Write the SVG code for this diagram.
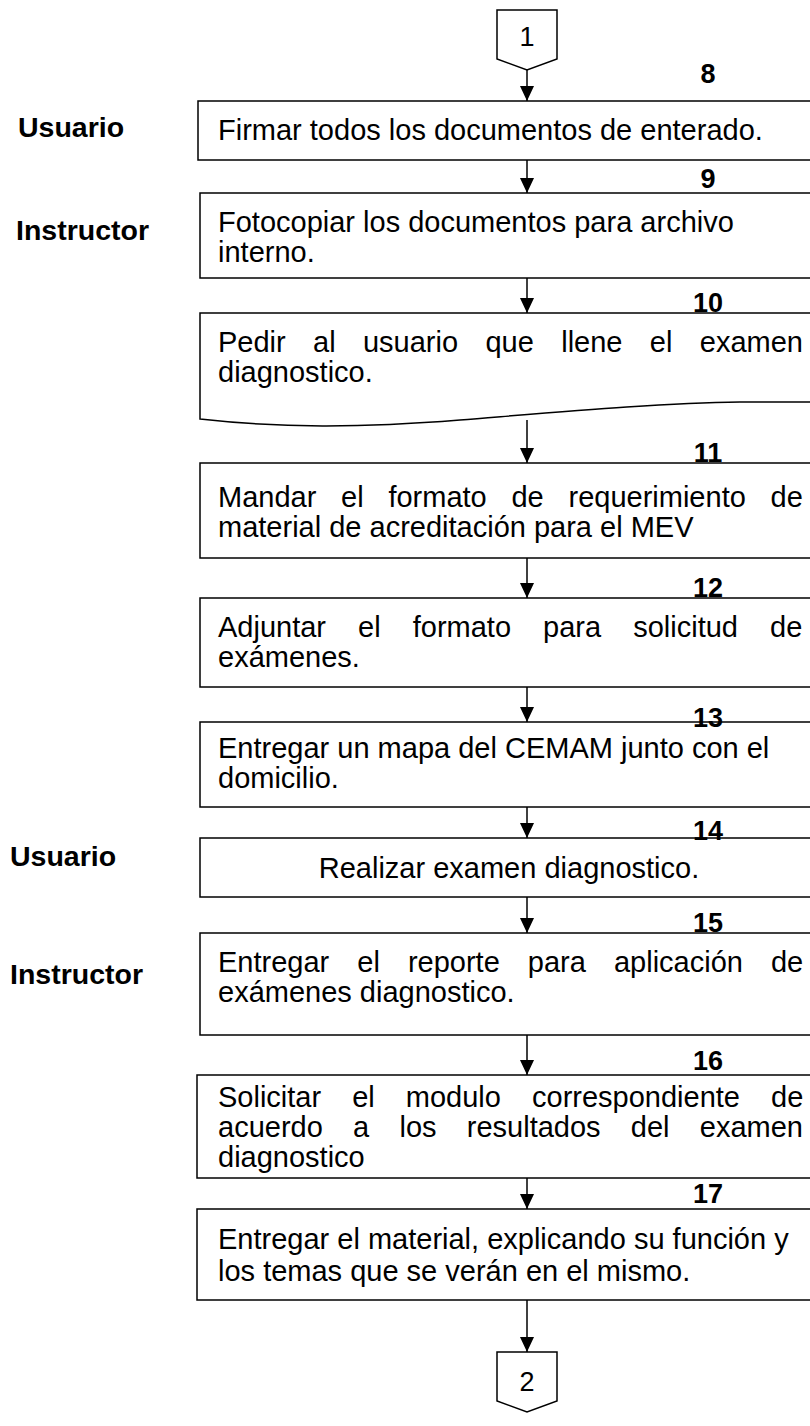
<svg xmlns="http://www.w3.org/2000/svg" width="810" height="1426" viewBox="0 0 810 1426">
<defs>
<style>
.box{fill:#fff;stroke:#000;stroke-width:1.5}
.t{font-family:"Liberation Sans",Arial,sans-serif;font-size:29px;fill:#000}
.n{font-family:"Liberation Sans",Arial,sans-serif;font-size:27px;font-weight:bold;fill:#000;text-anchor:middle}
.lbl{font-family:"Liberation Sans",Arial,sans-serif;font-size:28.5px;font-weight:bold;fill:#000}
.c{font-family:"Liberation Sans",Arial,sans-serif;font-size:27px;fill:#000;text-anchor:middle}
.ln{stroke:#000;stroke-width:1.5;fill:none}
</style>
<marker id="ah" markerUnits="userSpaceOnUse" markerWidth="15" markerHeight="14" refX="15" refY="7" orient="auto" viewBox="0 0 15 14">
<path d="M0,0 L15,7 L0,14 Z" fill="#000"/>
</marker>
</defs>
<rect width="810" height="1426" fill="#fff"/>

<g id="labels">
<text class="lbl" x="18" y="137">Usuario</text>
<text class="lbl" x="16" y="240">Instructor</text>
<text class="lbl" x="10" y="866">Usuario</text>
<text class="lbl" x="10" y="984">Instructor</text>
</g>

<g id="connectors">
<line class="ln" x1="527" y1="70" x2="527" y2="101" marker-end="url(#ah)"/>
<line class="ln" x1="527" y1="160" x2="527" y2="193" marker-end="url(#ah)"/>
<line class="ln" x1="527" y1="278" x2="527" y2="313" marker-end="url(#ah)"/>
<line class="ln" x1="527" y1="420" x2="527" y2="463" marker-end="url(#ah)"/>
<line class="ln" x1="527" y1="558" x2="527" y2="598" marker-end="url(#ah)"/>
<line class="ln" x1="527" y1="687" x2="527" y2="722" marker-end="url(#ah)"/>
<line class="ln" x1="527" y1="807" x2="527" y2="838" marker-end="url(#ah)"/>
<line class="ln" x1="527" y1="897" x2="527" y2="933" marker-end="url(#ah)"/>
<line class="ln" x1="527" y1="1035" x2="527" y2="1075" marker-end="url(#ah)"/>
<line class="ln" x1="527" y1="1178" x2="527" y2="1209" marker-end="url(#ah)"/>
<line class="ln" x1="527" y1="1300" x2="527" y2="1352" marker-end="url(#ah)"/>
</g>

<g id="conn1">
<path class="box" d="M497,10 H557 V59 L527,70 L497,59 Z"/>
<text class="c" x="527" y="46">1</text>
</g>

<g id="step8">
<rect class="box" x="198" y="101" width="620" height="59"/>
<text class="n" x="708" y="83">8</text>
<text class="t" x="218" y="140">Firmar todos los documentos de enterado.</text>
</g>

<g id="step9">
<rect class="box" x="200" y="193" width="620" height="85"/>
<text class="n" x="708" y="188">9</text>
<text class="t" x="218" y="232">Fotocopiar los documentos para archivo</text>
<text class="t" x="218" y="262">interno.</text>
</g>

<g id="step10">
<path class="box" d="M200,313 H820 V402 L740,402 C660,403 560,412 460,420 C360,428 280,428 200,419 Z"/>
<text class="n" x="708" y="312">10</text>
<text class="t" x="218" y="352" word-spacing="19.3">Pedir al usuario que llene el examen</text>
<text class="t" x="218" y="382">diagnostico.</text>
</g>

<g id="step11">
<rect class="box" x="200" y="463" width="620" height="95"/>
<text class="n" x="708" y="462">11</text>
<text class="t" x="218" y="507" word-spacing="16.7">Mandar el formato de requerimiento de</text>
<text class="t" x="218" y="537">material de acreditación para el MEV</text>
</g>

<g id="step12">
<rect class="box" x="200" y="598" width="620" height="89"/>
<text class="n" x="708" y="597">12</text>
<text class="t" x="218" y="637" word-spacing="24">Adjuntar el formato para solicitud de</text>
<text class="t" x="218" y="667">exámenes.</text>
</g>

<g id="step13">
<rect class="box" x="200" y="722" width="620" height="85"/>
<text class="n" x="708" y="727">13</text>
<text class="t" x="218" y="758">Entregar un mapa del CEMAM  junto con el</text>
<text class="t" x="218" y="788">domicilio.</text>
</g>

<g id="step14">
<rect class="box" x="200" y="838" width="620" height="59"/>
<text class="n" x="708" y="840">14</text>
<text class="t" x="509" y="878" text-anchor="middle">Realizar examen diagnostico.</text>
</g>

<g id="step15">
<rect class="box" x="200" y="933" width="620" height="102"/>
<text class="n" x="708" y="932">15</text>
<text class="t" x="218" y="972" word-spacing="20">Entregar el reporte para aplicación de</text>
<text class="t" x="218" y="1002">exámenes diagnostico.</text>
</g>

<g id="step16">
<rect class="box" x="197" y="1075" width="623" height="103"/>
<text class="n" x="708" y="1070">16</text>
<text class="t" x="218" y="1107" word-spacing="23">Solicitar el modulo correspondiente de</text>
<text class="t" x="218" y="1137" word-spacing="22.2">acuerdo a los resultados del examen</text>
<text class="t" x="218" y="1167">diagnostico</text>
</g>

<g id="step17">
<rect class="box" x="197" y="1209" width="623" height="91"/>
<text class="n" x="708" y="1203">17</text>
<text class="t" x="218" y="1249">Entregar el material, explicando su función y</text>
<text class="t" x="218" y="1281">los temas que se verán en el mismo.</text>
</g>

<g id="conn2">
<path class="box" d="M497,1352 H557 V1401 L527,1412 L497,1401 Z"/>
<text class="c" x="527" y="1391">2</text>
</g>
</svg>
